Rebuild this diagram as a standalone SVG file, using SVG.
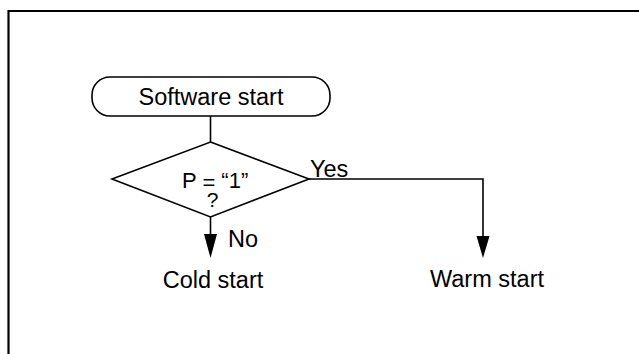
<svg xmlns="http://www.w3.org/2000/svg" width="639" height="354" viewBox="0 0 639 354">
<style>
.t{font-family:"Liberation Sans",Arial,sans-serif;font-size:23.5px;fill:#000}
.s{fill:none;stroke:#000;stroke-width:1.6}
.sh{fill:#fff;stroke:#000;stroke-width:1.6}
.frame{fill:none;stroke:#000;stroke-width:2.2}
</style>
<rect width="639" height="354" fill="#fff"/>
<path class="frame" d="M8.5,354 V11 H639"/>
<g id="connectors">
<line class="s" x1="210.5" y1="116" x2="210.5" y2="142"/>
<line class="s" x1="210.5" y1="217" x2="210.5" y2="236"/>
<polygon points="204,234 217,234 210.5,258" fill="#000"/>
<polyline class="s" points="309,179 483,179 483,238"/>
<polygon points="476.5,236 489.5,236 483,258" fill="#000"/>
<text class="t" x="310" y="177">Yes</text>
<text class="t" x="228" y="247">No</text>
</g>
<g id="start">
<rect class="sh" x="92" y="77" width="238" height="39" rx="18" ry="18"/>
<text class="t" x="211" y="105" text-anchor="middle">Software start</text>
</g>
<g id="decision">
<polygon class="sh" points="210.5,142 309,179 210.5,217 112,179"/>
<text class="t" x="182" y="188" style="font-size:22px">P <tspan dy="2">=</tspan><tspan dy="-2"> “1”</tspan></text>
<text class="t" x="212.5" y="207" text-anchor="middle" style="font-size:21px">?</text>
</g>
<g id="cold">
<text class="t" x="213" y="288" text-anchor="middle">Cold start</text>
</g>
<g id="warm">
<text class="t" x="487" y="287" text-anchor="middle">Warm start</text>
</g>
</svg>
